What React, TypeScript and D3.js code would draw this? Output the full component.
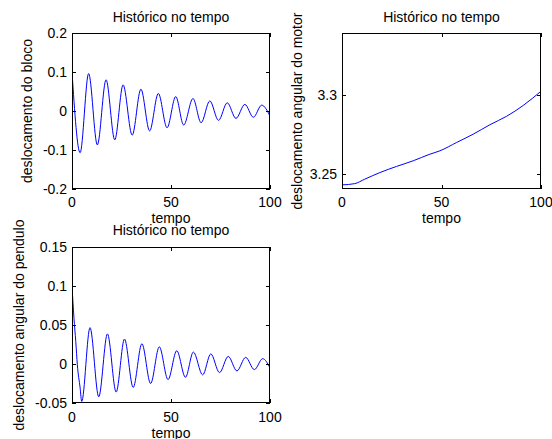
import React from "react";
import * as d3 from "d3";

const titleText = "Histórico no tempo";
const xLabelText = "tempo";
const xTicks = [0, 50, 100];

const blocoT = [0, 4.1, 8.4, 12.8, 17.2, 21.6, 25.8, 30.4, 34.8, 39.2, 43.6, 48, 52.4, 56.4, 61.1, 65.2, 69.6, 74, 78.4, 82.8, 87.3, 91.6, 95.8, 100];
const blocoY = [0.1, -0.107, 0.096, -0.087, 0.08, -0.074, 0.067, -0.062, 0.056, -0.051, 0.045, -0.043, 0.037, -0.036, 0.032, -0.03, 0.026, -0.024, 0.021, -0.019, 0.017, -0.016, 0.015, -0.013];
const blocoTicks = [-0.2, -0.1, 0, 0.1, 0.2];
const blocoTickLabels = ["-0.2", "-0.1", "0", "0.1", "0.2"];

const motorT = [0, 6.4, 11.4, 19, 27.4, 35.8, 44.2, 49.2, 57.6, 66, 74.4, 82.7, 91.1, 100];
const motorY = [3.2428, 3.2436, 3.2464, 3.2506, 3.2545, 3.2581, 3.2623, 3.2644, 3.2697, 3.275, 3.281, 3.2863, 3.2932, 3.3022];
const motorTicks = [3.25, 3.3];
const motorTickLabels = ["3.25", "3.3"];

const penduloT = [0, 1.0, 1.9, 2.7, 4.1, 4.9, 9.1, 13.5, 17.9, 22.3, 26.5, 30.9, 35.3, 39.7, 44.1, 48.5, 52.9, 57.3, 61.3, 66, 70.1, 74.5, 78.9, 83.3, 87.7, 92.1, 96.3, 100];
const penduloY = [0.1, 0.0585, 0.029, -0.001, -0.0305, -0.048, 0.0466, -0.042, 0.0386, -0.036, 0.032, -0.03, 0.026, -0.025, 0.022, -0.02, 0.017, -0.017, 0.0153, -0.014, 0.013, -0.011, 0.0097, -0.0089, 0.0085, -0.0072, 0.0068, -0.005];
const penduloTicks = [-0.05, 0, 0.05, 0.1, 0.15];
const penduloTickLabels = ["-0.05", "0", "0.05", "0.1", "0.15"];

const FONT = "'Liberation Sans', Arial, Helvetica, sans-serif";
const FS = 14;

type PanelProps = {
  id: string;
  x0: number; x1: number; y0: number; y1: number;
  yDomain: [number, number];
  t: number[]; y: number[];
  yTicks: number[]; yTickLabels: string[];
  yLabel: string; yLabelX: number;
  titleY: number; xTickY: number; xLabelY: number;
};

function Panel(p: PanelProps) {
  const xs = d3.scaleLinear().domain([0, 100]).range([p.x0, p.x1]);
  const ys = d3.scaleLinear().domain(p.yDomain).range([p.y1, p.y0]);
  const pts: [number, number][] = p.t.map((tv, i) => [tv, p.y[i]]);
  const line = d3.line<[number, number]>()
    .x(d => xs(d[0]))
    .y(d => ys(d[1]))
    .curve(d3.curveMonotoneX);
  const tl = 4;
  const cx = (p.x0 + p.x1) / 2;
  const cy = (p.y0 + p.y1) / 2;
  return (
    <g>
      <defs>
        <clipPath id={p.id}>
          <rect x={p.x0} y={p.y0} width={p.x1 - p.x0} height={p.y1 - p.y0} />
        </clipPath>
      </defs>
      <path d={line(pts) || ""} fill="none" stroke="#0000ff" strokeWidth={1} clipPath={`url(#${p.id})`} />
      <rect x={p.x0 + 0.5} y={p.y0 + 0.5} width={p.x1 - p.x0 - 1} height={p.y1 - p.y0 - 1} fill="none" stroke="#000" strokeWidth={1} />
      {xTicks.map(v => {
        const X = Math.round(xs(v)) + 0.5;
        return (
          <g key={"xt" + v}>
            <line x1={X} x2={X} y1={p.y1} y2={p.y1 - tl} stroke="#000" />
            <line x1={X} x2={X} y1={p.y0} y2={p.y0 + tl} stroke="#000" />
            <text x={xs(v)} y={p.xTickY} textAnchor="middle" fontFamily={FONT} fontSize={FS}>{v}</text>
          </g>
        );
      })}
      {p.yTicks.map((v, i) => {
        const Y = Math.round(ys(v)) + 0.5;
        return (
          <g key={"yt" + v}>
            <line x1={p.x0} x2={p.x0 + tl} y1={Y} y2={Y} stroke="#000" />
            <line x1={p.x1} x2={p.x1 - tl} y1={Y} y2={Y} stroke="#000" />
            <text x={p.x0 - 5} y={ys(v) + 5} textAnchor="end" fontFamily={FONT} fontSize={FS}>{p.yTickLabels[i]}</text>
          </g>
        );
      })}
      <text x={cx} y={p.titleY} textAnchor="middle" fontFamily={FONT} fontSize={FS}>{titleText}</text>
      <text x={cx} y={p.xLabelY} textAnchor="middle" fontFamily={FONT} fontSize={FS}>{xLabelText}</text>
      <text transform={`translate(${p.yLabelX},${cy}) rotate(-90)`} textAnchor="middle" fontFamily={FONT} fontSize={FS}>{p.yLabel}</text>
    </g>
  );
}

export default function App() {
  return (
    <svg width={552} height={439} style={{ position: "absolute", left: 0, top: 0, background: "#fff" }}>
      <rect x={0} y={0} width={552} height={439} fill="#fff" />
      <Panel id="c1" x0={72} x1={270} y0={33} y1={189} yDomain={[-0.2, 0.2]}
        t={blocoT} y={blocoY} yTicks={blocoTicks} yTickLabels={blocoTickLabels}
        yLabel="deslocamento do bloco" yLabelX={31.5} titleY={22} xTickY={207} xLabelY={223} />
      <Panel id="c2" x0={342} x1={541} y0={33} y1={189} yDomain={[3.2402, 3.3391]}
        t={motorT} y={motorY} yTicks={motorTicks} yTickLabels={motorTickLabels}
        yLabel="deslocamento angular do motor" yLabelX={302} titleY={22} xTickY={207} xLabelY={223} />
      <Panel id="c3" x0={72} x1={270} y0={247} y1={403} yDomain={[-0.05, 0.15]}
        t={penduloT} y={penduloY} yTicks={penduloTicks} yTickLabels={penduloTickLabels}
        yLabel="deslocamento angular do pendulo" yLabelX={23.5} titleY={235} xTickY={421.5} xLabelY={437.5} />
    </svg>
  );
}
